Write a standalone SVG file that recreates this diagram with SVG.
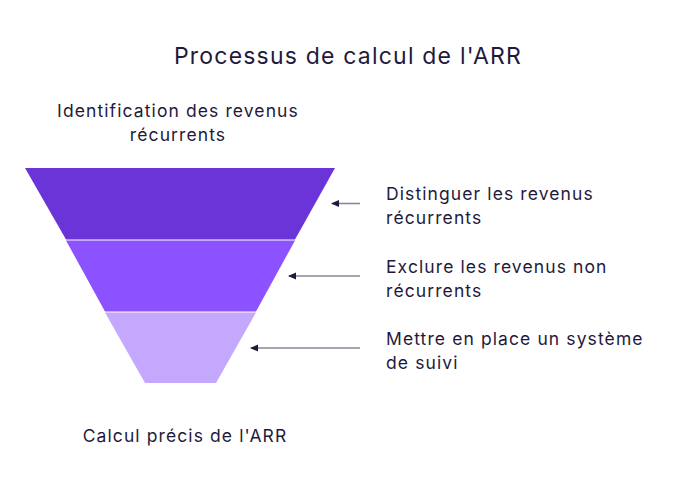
<svg xmlns="http://www.w3.org/2000/svg" width="697" height="492" viewBox="0 0 697 492">
<defs>
<marker id="ah" markerWidth="8" markerHeight="8" refX="7" refY="4" orient="auto" markerUnits="userSpaceOnUse"><path d="M0,0.5 L8,4 L0,7.5 Z" fill="#1f1a3d"/></marker>
<style>
text{font-family:"Inter","Liberation Sans",sans-serif;fill:#1f1a3d;font-size:17.5px;letter-spacing:1.1px}
.c{stroke:#8a8699;stroke-width:1.6;fill:none;marker-end:url(#ah)}
</style>
</defs>
<rect width="697" height="492" fill="#fff"/>
<text x="348" y="64" text-anchor="middle" style="font-size:23px;letter-spacing:1.2px">Processus de calcul de l'ARR</text>
<g id="top-label"><text x="178" y="117" text-anchor="middle">Identification des revenus</text><text x="178" y="141" text-anchor="middle">récurrents</text></g>
<g id="band1"><polygon points="25,168 335,168 295,239.5 66,239.5" fill="#6a34d9"/></g>
<g id="band2"><polygon points="66,240.5 295,240.5 256,311.5 105,311.5" fill="#8c52ff"/></g>
<g id="band3"><polygon points="105,312.5 256,312.5 216,383 145,383" fill="#c3a8fe"/></g>
<g id="bottom-label"><text x="185" y="442" text-anchor="middle">Calcul précis de l'ARR</text></g>
<g id="connectors">
<line class="c" x1="360" y1="203.5" x2="332" y2="203.5"/>
<line class="c" x1="360" y1="276" x2="289" y2="276"/>
<line class="c" x1="360" y1="348" x2="251" y2="348"/>
</g>
<g id="step1"><text x="386" y="200">Distinguer les revenus</text><text x="386" y="224">récurrents</text></g>
<g id="step2"><text x="386" y="273">Exclure les revenus non</text><text x="386" y="297">récurrents</text></g>
<g id="step3"><text x="386" y="345">Mettre en place un système</text><text x="386" y="369">de suivi</text></g>
</svg>
